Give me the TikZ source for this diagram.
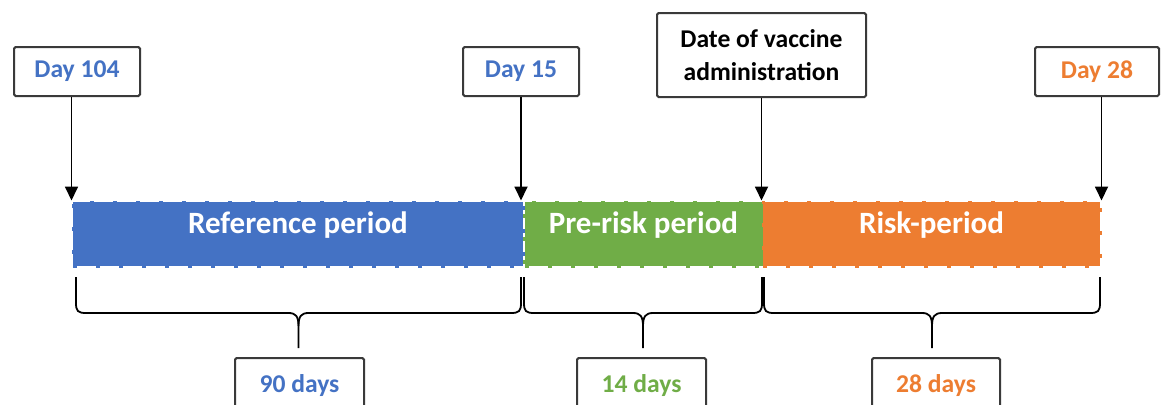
\documentclass[tikz,border=0pt]{standalone}
\usepackage{fontspec}
\setmainfont{Carlito}
\usetikzlibrary{arrows.meta}
\definecolor{cblue}{HTML}{4472C4}
\definecolor{cgreen}{HTML}{70AD47}
\definecolor{corange}{HTML}{ED7D31}
\definecolor{cframe}{HTML}{3A3A3A}
\tikzset{
  labelbox/.style={draw=cframe, line width=1pt, fill=white, rounded corners=0.8pt,
    inner sep=0pt, font=\bfseries\fontsize{12.8}{16.5}\selectfont, align=center},
  barbox/.style={fill=#1, draw=#1, line width=1.5pt, dash pattern=on 2pt off 9.5pt,
    inner sep=0pt, minimum height=32pt, text height=11pt, text depth=11.5pt,
    text=white, font=\bfseries\fontsize{15.5}{18}\selectfont},
  arr/.style={draw=black, line width=0.9pt, -{Triangle[length=7pt,width=6.5pt]}},
  bracepath/.style={draw=black, line width=0.9pt}
}
\newcommand\mybrace[3]{% x1, x2, centre
  \draw[bracepath] (#1,277) -- (#1,303) .. controls (#1,311) and ({#1+2},313) .. ({#1+10},313)
    -- ({#3-10},313) .. controls ({#3-3},313) and (#3,316) .. (#3,326) -- (#3,348);
  \draw[bracepath] (#3,326) .. controls (#3,316) and ({#3+3},313) .. ({#3+10},313)
    -- ({#2-10},313) .. controls ({#2-2},313) and (#2,311) .. (#2,303) -- (#2,277);
}
\begin{document}
\begin{tikzpicture}[x=0.5pt,y=-0.5pt]
\useasboundingbox (0,0) rectangle (1167,404);
\clip (0,0) rectangle (1167,404);
% bars
\node[barbox=cblue, minimum width=225pt] (ref) at (298,234) {Reference period};
\node[barbox=cgreen, minimum width=119pt] (pre) at (643.5,234) {Pre-risk period};
\node[barbox=corange, minimum width=168.5pt] (risk) at (931.5,234) {Risk-period};
% top labels
\node[labelbox, minimum width=63pt, minimum height=24.5pt, text=cblue] (d104) at (77,71.5) {Day 104};
\node[labelbox, minimum width=58pt, minimum height=24.5pt, text=cblue] (d15) at (521,71.5) {Day 15};
\node[labelbox, minimum width=104.5pt, minimum height=42pt, text=black] (vac) at (761.5,55) {Date of vaccine\\administration};
\node[labelbox, minimum width=62pt, minimum height=24.5pt, text=corange] (d28) at (1097,71.5) {Day 28};
% arrows
\draw[arr] (d104.south -| ref.north west) -- (ref.north west);
\draw[arr] (d15.south) -- (d15.south |- ref.north);
\draw[arr] (vac.south) -- (vac.south |- pre.north);
\draw[arr] (d28.south -| risk.north east) -- (risk.north east);
% braces
\mybrace{76}{521}{298.5}
\mybrace{524}{762}{643}
\mybrace{764}{1100}{932}
% bottom labels
\node[labelbox, minimum width=64.5pt, minimum height=28pt, text=cblue] (n90) at (299.5,386) {90 days};
\node[labelbox, minimum width=64.5pt, minimum height=28pt, text=cgreen] (n14) at (641.5,386) {14 days};
\node[labelbox, minimum width=64pt, minimum height=28pt, text=corange] (n28) at (936,386) {28 days};
\end{tikzpicture}
\end{document}
